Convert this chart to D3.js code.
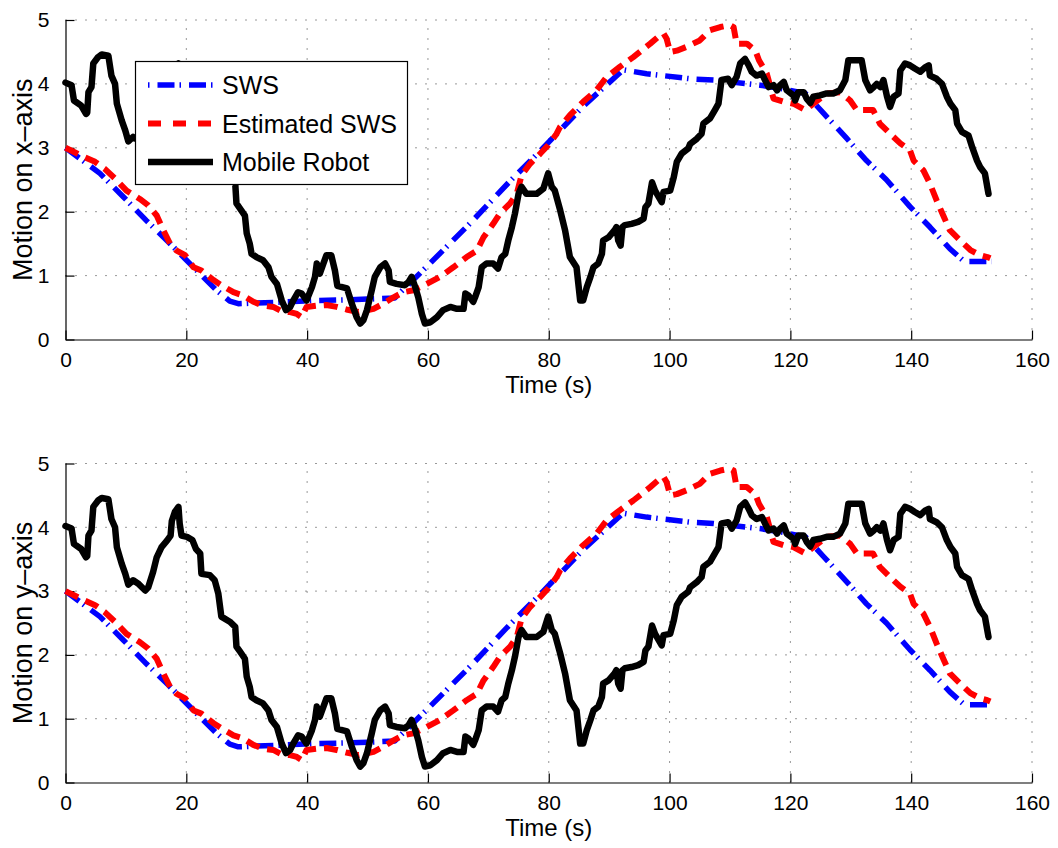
<!DOCTYPE html>
<html>
<head>
<meta charset="utf-8">
<script src="https://cdn.jsdelivr.net/npm/d3@7"></script>
<style>
  body { margin: 0; background: #fff; }
  svg { display: block; font-family: "Liberation Sans", Arial, Helvetica, sans-serif; }
</style>
</head>
<body>
<script>
// both panels show the same traces in the figure
const swsTime = [0, 5.7, 9.6, 13.4, 17.0, 21.2, 25.0, 27.2, 28.6, 34.4, 41.6, 46.5, 52.1, 54.5, 59.8, 67.0, 73.6, 79.1, 85.7, 92.3, 96.2, 103.4, 107.3, 115.0, 118.3, 122.5, 125.4, 129.3, 132.6, 135.9, 139.8, 143.1, 146.4, 148.8, 153.3];
const swsValue = [3.0, 2.6, 2.23, 1.86, 1.53, 1.13, 0.77, 0.6, 0.56, 0.58, 0.61, 0.62, 0.64, 0.65, 1.14, 1.82, 2.48, 3.0, 3.65, 4.22, 4.16, 4.08, 4.06, 3.98, 3.93, 3.85, 3.55, 3.15, 2.8, 2.5, 2.08, 1.76, 1.42, 1.22, 1.22];

const estTime = [0, 3.0, 4.9, 6.5, 8.2, 10.1, 12.3, 13.7, 15.1, 16.2, 17.3, 18.4, 19.8, 21.2, 22.5, 24.5, 25.8, 27.8, 29.4, 31.1, 32.7, 34.4, 36.0, 37.2, 38.3, 39.1, 39.9, 41.6, 43.2, 44.9, 46.5, 48.5, 51.0, 52.6, 54.3, 55.9, 57.6, 59.8, 62.0, 64.2, 66.4, 68.1, 69.2, 70.8, 71.9, 73.6, 74.7, 75.5, 76.9, 78.6, 79.9, 81.3, 81.9, 83.5, 85.7, 87.9, 89.6, 91.8, 94.0, 96.8, 98.4, 99.0, 99.5, 100.1, 101.2, 102.8, 105.0, 106.7, 108.4, 110.0, 110.6, 111.1, 112.8, 114.2, 114.8, 115.6, 116.1, 116.7, 117.2, 118.9, 120.5, 122.5, 123.8, 126.0, 128.2, 129.9, 131.0, 133.7, 134.8, 136.5, 138.2, 139.8, 140.4, 142.0, 143.1, 144.2, 145.4, 146.4, 148.1, 149.8, 151.4, 152.6, 153.1];
const estValue = [3.0, 2.86, 2.78, 2.67, 2.52, 2.33, 2.2, 2.1, 1.94, 1.71, 1.5, 1.39, 1.32, 1.13, 1.08, 0.93, 0.85, 0.74, 0.69, 0.59, 0.53, 0.51, 0.43, 0.43, 0.4, 0.35, 0.51, 0.53, 0.54, 0.51, 0.47, 0.43, 0.48, 0.56, 0.66, 0.74, 0.77, 0.87, 0.98, 1.13, 1.29, 1.39, 1.6, 1.81, 1.97, 2.13, 2.28, 2.57, 2.75, 2.91, 3.04, 3.22, 3.33, 3.51, 3.72, 3.9, 4.11, 4.27, 4.42, 4.63, 4.76, 4.79, 4.71, 4.5, 4.52, 4.58, 4.68, 4.84, 4.89, 4.92, 4.89, 4.63, 4.63, 4.52, 4.37, 4.24, 4.16, 3.95, 3.77, 3.72, 3.69, 3.59, 3.69, 3.85, 3.87, 3.74, 3.59, 3.59, 3.38, 3.22, 3.07, 2.96, 2.8, 2.65, 2.44, 2.18, 1.92, 1.71, 1.55, 1.4, 1.32, 1.29, 1.27];

const robotTime = [0, 1.0, 1.4, 2.6, 3.4, 3.6, 3.8, 4.3, 4.6, 5.4, 6.0, 7.1, 7.6, 8.2, 8.5, 9.3, 9.9, 10.4, 11.2, 12.0, 13.2, 13.7, 14.5, 15.1, 15.9, 16.8, 17.4, 17.6, 18.1, 18.7, 18.9, 19.2, 20.1, 21.0, 21.6, 22.3, 22.5, 23.9, 24.7, 25.3, 25.8, 27.2, 28.1, 28.3, 28.9, 29.7, 30.0, 30.5, 30.8, 31.6, 32.7, 33.6, 34.1, 35.0, 35.8, 36.5, 37.2, 37.7, 38.5, 39.1, 39.9, 40.8, 41.3, 41.6, 42.1, 42.7, 43.2, 44.0, 44.6, 45.0, 46.6, 47.4, 48.2, 48.8, 49.3, 49.9, 50.7, 51.2, 52.1, 52.9, 53.5, 53.7, 54.8, 56.2, 56.8, 57.3, 57.9, 58.4, 59.0, 59.5, 60.4, 61.5, 62.5, 63.7, 64.8, 65.9, 66.2, 66.7, 67.5, 67.8, 68.4, 68.9, 69.7, 70.8, 71.6, 72.2, 72.8, 73.3, 73.9, 74.4, 75.0, 75.5, 76.3, 78.0, 79.1, 79.7, 79.9, 80.5, 81.0, 81.9, 82.7, 83.5, 84.6, 84.9, 85.2, 85.7, 86.3, 86.9, 87.4, 88.2, 88.8, 89.0, 89.9, 90.9, 91.2, 91.5, 91.9, 92.2, 92.6, 93.7, 94.8, 95.7, 96.0, 96.5, 97.1, 97.6, 98.2, 98.7, 99.0, 100.1, 100.7, 101.2, 102.0, 103.1, 103.4, 104.5, 105.3, 105.6, 106.7, 107.5, 108.1, 108.6, 109.7, 110.3, 111.1, 111.7, 112.5, 113.1, 113.6, 114.4, 115.3, 115.8, 116.4, 117.2, 117.8, 118.3, 118.9, 119.4, 120.5, 120.8, 121.3, 122.2, 122.7, 123.3, 123.8, 124.9, 126.0, 127.1, 128.2, 129.1, 129.6, 131.8, 132.4, 133.2, 133.8, 134.3, 134.9, 135.4, 136.0, 136.5, 137.1, 137.9, 138.2, 139.0, 139.8, 140.6, 141.5, 142.3, 142.9, 143.1, 144.2, 145.1, 145.9, 146.5, 147.3, 147.6, 148.4, 149.5, 150.1, 150.9, 151.4, 152.2, 152.5, 152.8];
const robotValue = [4.02, 3.98, 3.74, 3.66, 3.53, 3.55, 3.87, 3.95, 4.32, 4.42, 4.46, 4.44, 4.13, 4.0, 3.69, 3.43, 3.27, 3.1, 3.17, 3.12, 3.01, 3.06, 3.3, 3.53, 3.69, 3.79, 3.87, 4.1, 4.24, 4.32, 4.06, 3.87, 3.85, 3.8, 3.66, 3.59, 3.27, 3.25, 3.17, 2.96, 2.6, 2.52, 2.44, 2.13, 2.05, 1.94, 1.66, 1.5, 1.34, 1.29, 1.24, 1.13, 0.98, 0.87, 0.61, 0.46, 0.51, 0.61, 0.74, 0.72, 0.61, 0.82, 0.98, 1.19, 1.03, 1.19, 1.32, 1.32, 1.08, 0.84, 0.8, 0.56, 0.35, 0.25, 0.3, 0.46, 0.77, 0.98, 1.13, 1.19, 1.08, 0.9, 0.87, 0.85, 0.9, 0.98, 0.82, 0.66, 0.4, 0.25, 0.27, 0.35, 0.46, 0.51, 0.48, 0.48, 0.72, 0.69, 0.59, 0.66, 0.82, 1.13, 1.19, 1.19, 1.11, 1.29, 1.34, 1.55, 1.76, 1.97, 2.28, 2.39, 2.28, 2.28, 2.36, 2.54, 2.6, 2.39, 2.33, 2.02, 1.71, 1.29, 1.13, 0.87, 0.61, 0.61, 0.82, 0.98, 1.13, 1.19, 1.34, 1.55, 1.6, 1.71, 1.76, 1.55, 1.47, 1.76, 1.79, 1.81, 1.84, 1.89, 2.07, 2.13, 2.46, 2.33, 2.23, 2.15, 2.31, 2.33, 2.54, 2.78, 2.91, 2.99, 3.06, 3.14, 3.22, 3.38, 3.46, 3.59, 3.69, 4.06, 4.08, 3.98, 4.11, 4.32, 4.39, 4.29, 4.19, 4.13, 4.16, 4.06, 3.95, 3.98, 3.9, 3.98, 4.03, 3.9, 3.82, 3.74, 3.87, 3.87, 3.77, 3.7, 3.8, 3.82, 3.85, 3.85, 3.9, 4.06, 4.37, 4.37, 4.06, 3.9, 3.95, 4.0, 3.95, 4.06, 3.8, 3.64, 3.8, 3.85, 4.21, 4.32, 4.29, 4.24, 4.19, 4.26, 4.29, 4.13, 4.08, 4.0, 3.8, 3.69, 3.59, 3.38, 3.25, 3.19, 3.01, 2.8, 2.7, 2.6, 2.44, 2.28];

const xTicks = [0, 20, 40, 60, 80, 100, 120, 140, 160];
const yTicks = [0, 1, 2, 3, 4, 5];
const yLabels = ["Motion on x\u2013axis", "Motion on y\u2013axis"];
const seriesNames = ["SWS", "Estimated SWS", "Mobile Robot"];

const W = 1058, H = 848;
const left = 65.5, right = 1032;
const panels = [{top: 20, bottom: 339.5}, {top: 463.5, bottom: 782.5}];

const styles = [
  {color: '#0000ff', width: 5.5, dash: '17,5,1.5,8', cap: 'butt'},
  {color: '#ff0000', width: 6, dash: '14,8', cap: 'butt'},
  {color: '#000000', width: 6.5, dash: null, cap: 'round'}
];

const svg = d3.select('body').append('svg').attr('width', W).attr('height', H);
svg.append('rect').attr('width', W).attr('height', H).attr('fill', '#fff');

const x = d3.scaleLinear().domain([0, 160]).range([left, right]);

const traces = [
  d3.zip(swsTime, swsValue),
  d3.zip(estTime, estValue),
  d3.zip(robotTime, robotValue)
];

panels.forEach((p, pi) => {
  const y = d3.scaleLinear().domain([0, 5]).range([p.bottom, p.top]);
  const g = svg.append('g');

  // dotted grid
  g.selectAll('.vgrid').data(xTicks.slice(1)).enter().append('line')
    .attr('x1', d => x(d)).attr('x2', d => x(d))
    .attr('y1', p.bottom).attr('y2', p.top)
    .attr('stroke', '#333').attr('stroke-width', 1).attr('stroke-dasharray', '1,9');
  g.selectAll('.hgrid').data(yTicks.slice(1)).enter().append('line')
    .attr('x1', left).attr('x2', right)
    .attr('y1', d => y(d)).attr('y2', d => y(d))
    .attr('stroke', '#333').attr('stroke-width', 1).attr('stroke-dasharray', '1,9');

  // axes
  const xAxis = d3.axisBottom(x).tickValues(xTicks).tickFormat(d3.format('d'))
    .tickSizeInner(-9).tickSizeOuter(0).tickPadding(13);
  const yAxis = d3.axisLeft(y).tickValues(yTicks).tickFormat(d3.format('d'))
    .tickSizeInner(-9).tickSizeOuter(0).tickPadding(16);
  const gx = g.append('g').attr('transform', `translate(0,${p.bottom})`).call(xAxis);
  const gy = g.append('g').attr('transform', `translate(${left},0)`).call(yAxis);
  [gx, gy].forEach(a => {
    a.select('.domain').attr('stroke', '#000').attr('stroke-width', 1.2);
    a.selectAll('.tick line').attr('stroke', '#000').attr('stroke-width', 1.2);
    a.selectAll('.tick text').attr('fill', '#000').style('font-size', '21px')
      .style('font-family', '"Liberation Sans", Arial, sans-serif');
  });

  // series
  const line = d3.line().x(d => x(d[0])).y(d => y(d[1]));
  traces.forEach((tr, i) => {
    g.append('path').datum(tr).attr('d', line)
      .attr('fill', 'none').attr('stroke', styles[i].color)
      .attr('stroke-width', styles[i].width)
      .attr('stroke-linejoin', 'round')
      .attr('stroke-linecap', styles[i].cap)
      .attr('stroke-dasharray', styles[i].dash);
  });

  // labels
  g.append('text').attr('x', (left + right) / 2).attr('y', p.bottom + 53)
    .attr('text-anchor', 'middle').style('font-size', '24px').text('Time (s)');
  g.append('text')
    .attr('transform', `translate(32,${(p.top + p.bottom) / 2}) rotate(-90)`)
    .attr('text-anchor', 'middle').style('font-size', '27px').text(yLabels[pi]);

  if (pi === 0) {
    const lg = g.append('g');
    lg.append('rect').attr('x', 135.5).attr('y', 61.5).attr('width', 272).attr('height', 123)
      .attr('fill', '#fff').attr('stroke', '#000').attr('stroke-width', 1.2);
    const legendDash = ['1.5,8,17,5', '13,12', null];
    seriesNames.forEach((name, i) => {
      const ly = 85 + i * 38.5;
      lg.append('line').attr('x1', 148).attr('x2', 213).attr('y1', ly).attr('y2', ly)
        .attr('stroke', styles[i].color).attr('stroke-width', styles[i].width)
        .attr('stroke-dasharray', legendDash[i]);
      lg.append('text').attr('x', 222).attr('y', ly + 9).style('font-size', '25px').text(name);
    });
  }
});
</script>
</body>
</html>
